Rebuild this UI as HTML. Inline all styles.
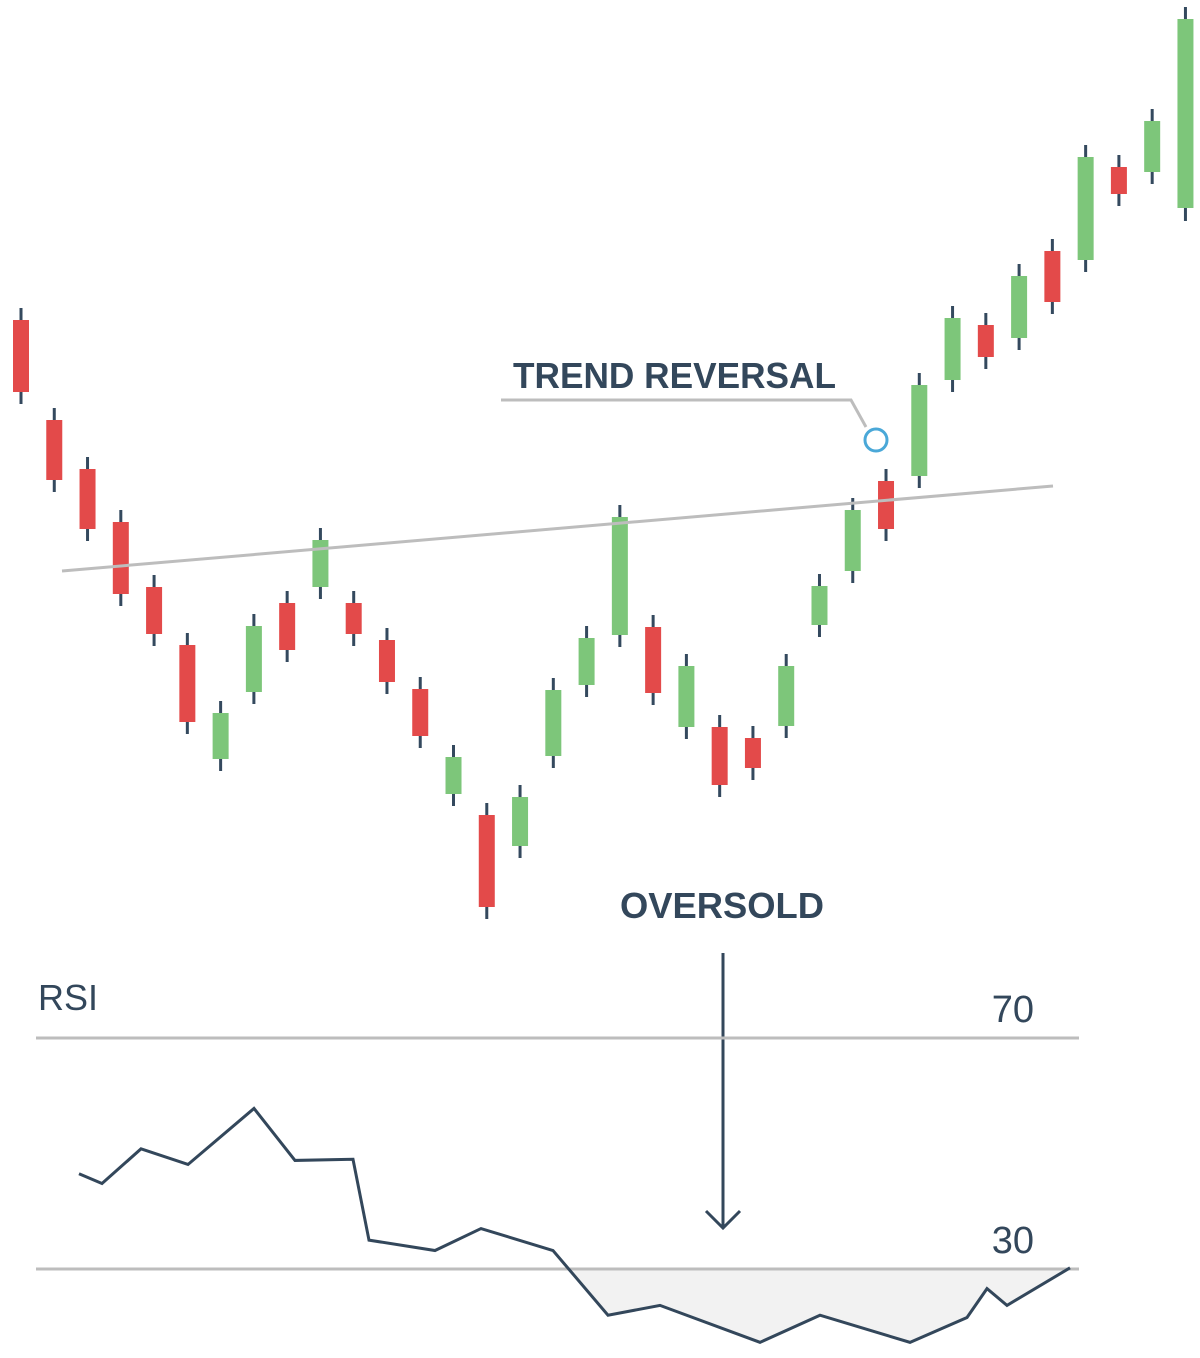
<!DOCTYPE html>
<html><head><meta charset="utf-8">
<style>
html,body{margin:0;padding:0;background:#fff;}
svg{display:block;}
text{font-family:"Liberation Sans",sans-serif;fill:#33475b;}
</style></head>
<body>
<svg id="chart" width="1200" height="1358" viewBox="0 0 1200 1358" xmlns="http://www.w3.org/2000/svg">
<g id="candles"></g>
<line x1="62" y1="571" x2="1053" y2="486" stroke="#bdbdbd" stroke-width="3"/>
<text x="513" y="388" font-size="36" font-weight="bold" textLength="323" lengthAdjust="spacingAndGlyphs">TREND REVERSAL</text>
<polyline points="501,400 851,400 866,427" fill="none" stroke="#bdbdbd" stroke-width="3"/>
<circle cx="876" cy="440" r="11" fill="#fff" stroke="#4aa8d8" stroke-width="3"/>
<text x="620" y="918" font-size="36" font-weight="bold" textLength="204" lengthAdjust="spacingAndGlyphs">OVERSOLD</text>
<line x1="723" y1="953" x2="723" y2="1226" stroke="#33475b" stroke-width="3"/>
<polyline points="706,1211 723,1228 740,1211" fill="none" stroke="#33475b" stroke-width="3"/>
<text x="38" y="1010" font-size="36">RSI</text>
<g id="rsi"></g>
</svg>
<script>
// Candle data (price units)
const opens  = [68.0,58.0,53.1,47.8,41.3,35.5,24.1,30.8,39.7,41.3,39.7,36.0,31.1,20.6,18.5,15.4,24.4,31.5,36.5,37.3,27.3,27.3,26.2,27.4,37.5,42.9,51.9,52.4,62.0,67.5,66.2,74.9,74.0,83.3,82.8,79.2];
const closes = [60.8,52.0,47.1,40.6,36.6,27.8,28.7,37.4,35.0,46.0,36.6,31.8,26.4,24.3,9.3,20.3,31.0,36.2,48.3,30.7,33.4,21.5,23.2,33.4,41.4,49.0,47.1,61.5,68.2,64.3,72.4,69.8,84.3,80.6,87.9,98.1];
const highs  = [69.2,59.2,54.3,49.0,42.5,36.7,29.9,38.6,40.9,47.2,40.9,37.2,32.3,25.5,19.7,21.5,32.2,37.4,49.5,38.5,34.6,28.5,27.4,34.6,42.6,50.2,53.1,62.7,69.4,68.7,73.6,76.1,85.5,84.5,89.1,99.3];
const lows   = [59.6,50.8,45.9,39.4,35.4,26.6,22.9,29.6,33.8,40.1,35.4,30.6,25.2,19.4,8.1,14.2,23.2,30.3,35.3,29.5,26.1,20.3,22.0,26.2,36.3,41.7,45.9,51.2,60.8,63.1,65.0,68.6,72.8,79.4,81.6,77.9];
// RSI data
const rsiValues = [46.5,44.8,50.8,48.1,57.8,48.8,49.0,35.0,33.2,37.0,33.2,22.0,23.7,17.3,22.0,17.3,21.6,26.6,23.7,30.2];
const rsiLevels = [70,30];
const rsiLevelLabels = ["70","30"];

const svg=document.getElementById('chart');
const NS="http://www.w3.org/2000/svg";
function py(p){return 1000-p*10;}
function cx(i){return 21+i*33.27;}
function rx(i){return 79+i*(1070-79)/(rsiValues.length-1);}
const rsiXs=[79,102,141,188,254,295,353,369,435,481,553,608,660,760,820,910,967,987,1007,1070];
function rX(i){return rsiXs[i]!==undefined?rsiXs[i]:rx(i);}
function ry(v){return 1269-(v-30)*(231/40);}
function mk(tag,attrs,parent){const e=document.createElementNS(NS,tag);for(const k in attrs)e.setAttribute(k,attrs[k]);parent.appendChild(e);return e;}

const cg=document.getElementById('candles');
for(let i=0;i<opens.length;i++){
  const up=closes[i]>=opens[i];
  const x=cx(i);
  const w=mk('line',{x1:x,x2:x,y1:py(highs[i]),y2:py(lows[i]),stroke:'#34495e','stroke-width':3},cg);
  
  
  const top=py(Math.max(opens[i],closes[i])),bot=py(Math.min(opens[i],closes[i]));
  const b=mk('rect',{x:x-8,y:top,width:16,height:Math.max(2,bot-top),fill:up?'#7dc67a':'#e34a4a'},cg);
  
  
}

const rg=document.getElementById('rsi');
let pts=[];
for(let i=0;i<rsiValues.length-1;i++){
  const x1=rX(i),x2=rX(i+1),v1=rsiValues[i],v2=rsiValues[i+1];
  if(v1<30)pts.push([x1,ry(v1)]);
  if((v1-30)*(v2-30)<0){const t=(30-v1)/(v2-v1);pts.push([x1+t*(x2-x1),ry(30)]);}
}
const last=rsiValues.length-1;
if(rsiValues[last]<=30)pts.push([rX(last),ry(rsiValues[last])]);
const area=mk('polygon',{points:pts.map(p=>p.join(',')).join(' '),fill:'#f2f2f2'},rg);


for(let k=0;k<rsiLevels.length;k++){
  const l=mk('line',{x1:36,x2:1079,y1:ry(rsiLevels[k]),y2:ry(rsiLevels[k]),stroke:'#bdbdbd','stroke-width':3},rg);
  
  
  const t=mk('text',{x:1034,y:ry(rsiLevels[k])-16,'font-size':38,'text-anchor':'end'},rg);
  t.textContent=rsiLevelLabels[k];
  
  
}
const line=mk('polyline',{points:rsiValues.map((v,i)=>rX(i)+','+ry(v)).join(' '),fill:'none',stroke:'#33475b','stroke-width':3,'stroke-linejoin':'miter'},rg);


</script>
</body></html>
